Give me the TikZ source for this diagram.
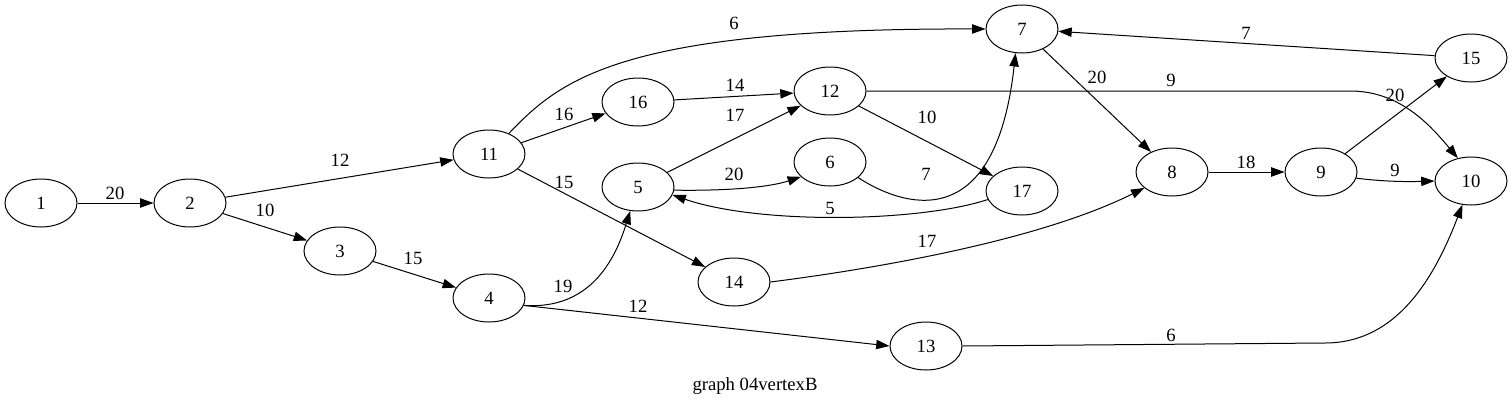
\documentclass[tikz,border=0pt]{standalone}
\usepackage{fontspec}
\setmainfont{Liberation Serif}
\usetikzlibrary{arrows.meta,shapes.geometric}
\begin{document}
\begin{tikzpicture}[x=0.75pt,y=-0.75pt,
  vtx/.style={draw, ellipse, minimum width=54pt, minimum height=36pt, inner sep=0pt, line width=0.75pt, font=\fontsize{14}{16}\selectfont},
  edge/.style={draw, line width=0.75pt, -{Triangle[length=10pt,width=7pt]}},
  lab/.style={font=\fontsize{14}{16}\selectfont, inner sep=0pt}]
\useasboundingbox (0,0) rectangle (1512,407);
% nodes
\node[vtx] (n1) at (41,203) {1};
\node[vtx] (n2) at (190,203) {2};
\node[vtx] (n3) at (340,251) {3};
\node[vtx] (n4) at (489,298) {4};
\node[vtx] (n5) at (638,187) {5};
\node[vtx] (n6) at (830,162) {6};
\node[vtx] (n7) at (1022,29) {7};
\node[vtx] (n8) at (1172,172) {8};
\node[vtx] (n9) at (1321,172) {9};
\node[vtx] (n10) at (1471,181) {10};
\node[vtx] (n11) at (489,154) {11};
\node[vtx] (n12) at (830,91) {12};
\node[vtx] (n13) at (926,346) {13};
\node[vtx] (n14) at (734,282) {14};
\node[vtx] (n15) at (1471,58) {15};
\node[vtx] (n16) at (638,102) {16};
\node[vtx] (n17) at (1022,191) {17};
\coordinate (c12) at (1350,91);
\coordinate (c13) at (1325,343);
% edges
\draw[edge] (n1) -- (n2) node[lab] at (115,193) {20};
\draw[edge] (n2) -- (n11) node[lab] at (340,160) {12};
\draw[edge] (n2) -- (n3) node[lab] at (265,210) {10};
\draw[edge] (n3) -- (n4) node[lab] at (413,258) {15};
\draw[edge] (n4.-12) .. controls (590,310) and (615,260) .. (n5.-108) node[lab] at (563,286) {19};
\draw[edge] (n4.-12) -- (n13.west) node[lab] at (638,306) {12};
\draw[edge] (n11.46) .. controls (560,80) and (620,28) .. (n7.west) node[lab] at (734,23) {6};
\draw[edge] (n11) -- (n16) node[lab] at (564,114) {16};
\draw[edge] (n11) -- (n14) node[lab] at (564,182) {15};
\draw[edge] (n16) -- (n12) node[lab] at (735,85) {14};
\draw[edge] (n5) -- (n12) node[lab] at (735,115) {17};
\draw[edge] (n5.-5) .. controls (730,191) and (770,187) .. (n6.207) node[lab] at (734,174) {20};
\draw[edge] (n6.-29) .. controls (900,205) and (995,240) .. (n7.-105) node[lab] at (926,174) {7};
\draw[edge] (n12) -- (n17) node[lab] at (927,117) {10};
\draw[edge] (n12.east) -- (c12) .. controls (1400,91) and (1430,125) .. (n10.120) node[lab] at (1171,80) {9};
\draw[edge] (n17.194) .. controls (920,222) and (760,225) .. (n5.-13) node[lab] at (830,208) {5};
\draw[edge] (n7) -- (n8) node[lab] at (1097,77) {20};
\draw[edge] (n14.east) .. controls (880,268) and (1040,240) .. (n8.210) node[lab] at (927,241) {17};
\draw[edge] (n8) -- (n9) node[lab] at (1246,162) {18};
\draw[edge] (n9) -- (n15) node[lab] at (1395,95) {20};
\draw[edge] (n9.-10) .. controls (1380,181) and (1400,182) .. (n10.west) node[lab] at (1395,170) {9};
\draw[edge] (n15) -- (n7) node[lab] at (1246,33) {7};
\draw[edge] (n13.east) -- (c13) .. controls (1390,343) and (1430,290) .. (n10.-110) node[lab] at (1171,335) {6};
\node[lab] (title) at (755,386) {graph 04vertexB};
\end{tikzpicture}
\end{document}
